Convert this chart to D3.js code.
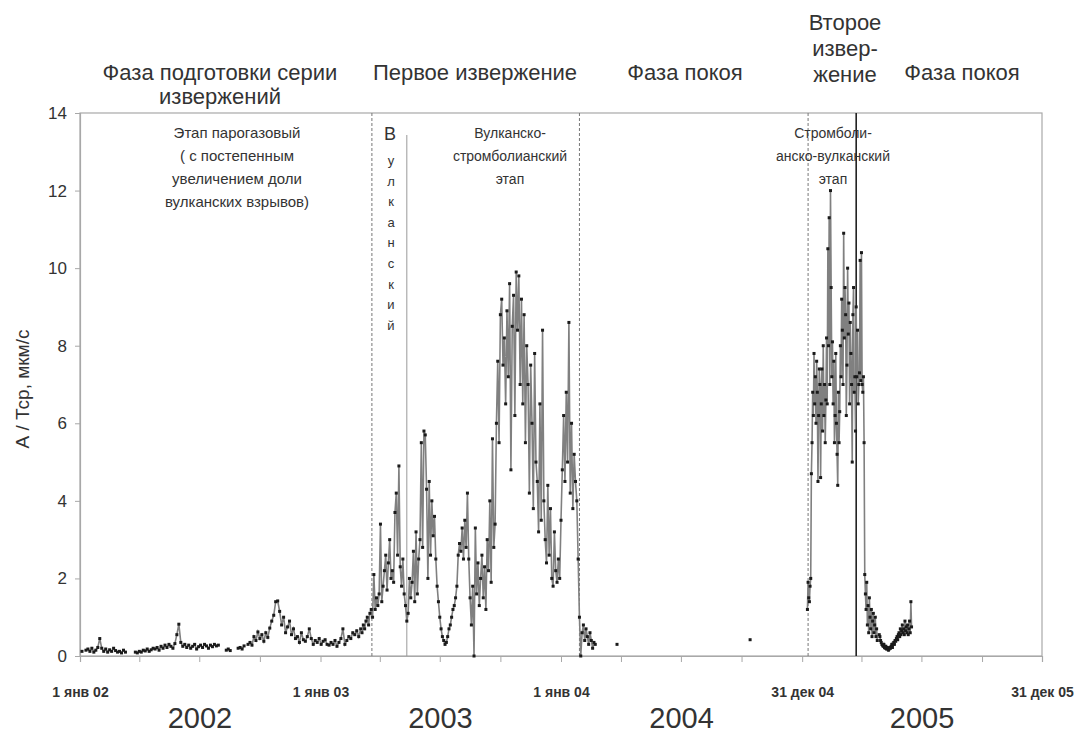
<!DOCTYPE html>
<html>
<head>
<meta charset="utf-8">
<script src="https://cdnjs.cloudflare.com/ajax/libs/d3/7.8.5/d3.min.js"></script>
<style>
body { margin: 0; background: #fff; }
svg text { font-family: "Liberation Sans", Arial, sans-serif; fill: #333; }
</style>
</head>
<body>
<div id="chart"></div>
<script>
"use strict";

// readings: start date, days between readings, A/Tcp values (null = no data)
var prepStart = "2002-01-04", prepStep = 3;
var prepValues = [0.12, null, 0.15,
    0.18, 0.12, 0.2, 0.1, 0.15, 0.22, 0.45, 0.2, 0.12, 0.18, 0.1, 0.16, 0.12, 0.2, 0.14, 0.1, 0.12, 0.08, 0.15, 0.1,
    null, null, null, null,
    0.1, 0.08, 0.12, 0.1, 0.15, 0.13, 0.18, 0.12, 0.16, 0.2,
    0.18, 0.22, 0.15, 0.25, 0.2, 0.28, 0.22, 0.3, 0.25, 0.2, 0.32,
    0.55, 0.82, 0.35, 0.25, 0.3,
    0.22, 0.28, 0.2, 0.25, 0.3, 0.18, 0.24, 0.28, 0.22, 0.3, 0.26, 0.2, 0.28, 0.24, 0.3, 0.26, 0.28,
    null, null, null, 0.15, 0.18, 0.14, null, null, null,
    0.2, 0.22, 0.18, 0.26, null,
    0.3, 0.35, 0.28, 0.5, 0.4, 0.62, 0.45,
    0.55, 0.38, 0.6, 0.48, 0.72,
    0.9, 1.05, 1.4, 1.42, 1.15,
    0.8, 1.0, 0.6, 0.75, 0.9,
    0.55, 0.7, 0.45, 0.5, 0.35, 0.6, 0.42, 0.38, 0.5, 0.7, 0.45, 0.3, 0.4, 0.35, 0.45, 0.3, 0.38, 0.42,
    0.3, 0.28, 0.35, 0.3, 0.4, 0.25, 0.35, 0.45, 0.7, 0.3, 0.4, 0.5, 0.45, 0.6, 0.55, 0.65, 0.5, 0.7];

var erupt1Start = "2003-03-05", erupt1Step = 2;
var erupt1Values = [0.6, 0.8, 0.7, 0.9, 1.0, 0.8, 1.1, 1.2, 1.0,
    2.1, 1.2, 1.5, 1.3,
    1.6, 3.4, 1.4, 1.8, 2.2,
    2.6, 1.7, 2.4, 3.0, 2.0,
    2.2, 1.9, 3.7, 4.2, 2.6, 4.9,
    2.3, 1.8, 2.5, 1.6, 1.3,
    0.9, 1.1, 2.0, 1.5, 1.9,
    2.7, 1.4, 3.2, 1.6, 2.5, 3.0,
    5.5, 2.8, 5.8, 5.7, 4.3, 2.0,
    4.5, 2.6, 4.0, 3.1, 3.6, 2.5,
    1.8, 1.4, 1.0, 0.7, 0.5, 0.4,
    0.3, 0.35, 0.5, 0.7, 0.8, 1.0,
    1.2, 1.3, 1.5, 1.8, 2.6, 2.9,
    2.7, 3.3, 2.5, 3.5, 2.8, 4.2,
    2.5, 1.5, 0.8, 1.8, 0.0, 3.3,
    1.6, 2.4, 1.3, 2.0, 2.6, 1.5,
    2.3, 1.2, 3.0, 2.2, 4.0, 1.9,
    5.6, 2.8, 3.4, 6.0, 7.6, 5.5,
    8.8, 9.2, 7.5, 8.2, 6.5, 8.9,
    7.2, 9.6, 4.8, 8.5, 9.3, 6.2,
    9.9, 8.4, 9.8, 7.0, 9.2, 6.5,
    8.8, 5.5, 8.0, 7.0, 4.2, 7.5,
    6.0, 3.8, 7.8, 5.0, 4.5, 3.2,
    6.5, 3.5, 8.4, 4.0, 3.0, 2.4,
    4.4, 2.6, 3.8, 2.0, 1.8, 3.2,
    2.2, 1.9, 2.5, 2.0, 3.5, 4.8,
    6.2, 4.5, 6.8, 5.0, 8.6, 4.2,
    6.0, 3.8, 5.2, 4.5, 4.0,
    2.5, 1.0, 0.0,
    0.6, 0.8, 0.4, 0.7, 0.5, 0.3, 0.6, 0.4, 0.2, 0.35, 0.3];

var erupt2Start = "2005-01-09", erupt2Step = 1;
var erupt2Values = [1.2, 1.9, 1.5, 1.4, 1.8, 2.0, 4.7, 5.5, 6.8, 6.2,
    7.8, 6.5, 7.2, 6.0, 7.6, 6.8, 4.5, 6.2, 7.4, 7.0,
    4.6, 6.5, 7.4, 5.8, 8.0, 6.2, 7.0, 5.5, 6.6, 8.2,
    6.5, 10.5, 8.0, 11.3, 7.0, 12.0, 9.5, 7.2, 8.1, 6.5,
    7.6, 5.5, 6.2, 7.8, 6.0, 5.2, 4.4, 6.8, 5.5, 6.3,
    8.0, 7.2, 9.2, 8.4, 7.0, 10.9, 8.2, 9.5, 8.8, 6.2,
    7.5, 10.0, 8.3, 9.1, 6.5, 8.6, 7.8, 7.0, 5.0, 8.8,
    9.5, 6.8, 7.2, 5.8, 9.0, 7.2, 8.4, 6.5, 7.0, 7.3,
    10.2, 7.1, 10.4, 7.0, 6.8, 7.2, 5.5, 2.1, 1.6, 1.2,
    1.9, 0.8, 1.3, 0.6, 1.5, 1.0, 0.7, 1.2, 0.5, 0.9,
    1.1, 0.6, 0.8, 1.0, 0.5, 0.7, 0.4, null, null, 0.55,
    0.5, 0.4, 0.35, 0.3, 0.28, 0.25, 0.3, 0.22, 0.2, 0.25,
    0.18, 0.22, 0.2, 0.15, 0.18, 0.22, 0.2, 0.25, 0.3, 0.22,
    0.3, 0.35, 0.3, 0.4, 0.38, 0.45, 0.5, 0.42, 0.55, 0.6,
    0.5, 0.7, 0.55, 0.65, 0.8, 0.6, 0.7, 0.55, 0.9, 0.65,
    0.75, 0.6, 0.8, 0.55, 0.7, 0.9, 0.6, 1.4, 0.75];

var strayDates = ["2004-03-26", "2004-10-14"];
var strayValues = [0.3, 0.42];

// stage boundaries
var dashedDates = ["2003-03-20", "2004-01-29", "2005-01-10"];
var solidDates = ["2003-05-12", "2005-03-24"];

var yTicks = [0, 2, 4, 6, 8, 10, 12, 14];
var xTickLabels = ["1 янв 02", "", "", "", "1 янв 03", "", "", "", "1 янв 04", "", "", "", "31 дек 04", "", "", "", "31 дек 05"];
var years = ["2002", "2003", "2004", "2005"];

var parse = d3.timeParse("%Y-%m-%d");

function series(start, step, values) {
    var d0 = parse(start);
    return values.map(function (v, i) { return { date: d3.timeDay.offset(d0, i * step), v: v }; });
}

var groups = [series(prepStart, prepStep, prepValues),
              series(erupt1Start, erupt1Step, erupt1Values),
              series(erupt2Start, erupt2Step, erupt2Values)];
var stray = strayDates.map(function (d, i) { return { date: parse(d), v: strayValues[i] }; });

var width = 1080, height = 736;
var plotL = 80, plotR = 1042, plotT = 113, plotB = 656;

var x = d3.scaleTime()
    .domain([parse("2002-01-01"), parse("2005-12-31")])
    .range([plotL, plotR]);
var y = d3.scaleLinear().domain([0, 14]).range([plotB, plotT]);

var svg = d3.select("#chart").append("svg")
    .attr("width", width)
    .attr("height", height);

// frame
svg.append("rect")
    .attr("x", plotL).attr("y", plotT)
    .attr("width", plotR - plotL).attr("height", plotB - plotT)
    .attr("fill", "none").attr("stroke", "#a8a8a8").attr("stroke-width", 1.2);

var xTicks = d3.timeMonth.every(3).range(parse("2002-01-01"), parse("2005-12-02"));
xTicks.push(parse("2005-12-31"));

var xAxis = svg.append("g")
    .attr("transform", "translate(0," + plotB + ")")
    .call(d3.axisBottom(x).tickValues(xTicks).tickSize(6).tickPadding(25)
        .tickFormat(function (d, i) { return xTickLabels[i]; }));
xAxis.select(".domain").attr("stroke", "#a8a8a8").attr("stroke-width", 1.2);
xAxis.selectAll(".tick line").attr("stroke", "#a8a8a8");
xAxis.selectAll("text")
    .style("font-size", "14px").style("font-weight", "bold").attr("fill", "#333");

var yAxis = svg.append("g")
    .attr("transform", "translate(" + plotL + ",0)")
    .call(d3.axisLeft(y).tickValues(yTicks).tickSize(5).tickPadding(8));
yAxis.select(".domain").attr("stroke", "#a8a8a8").attr("stroke-width", 1.2);
yAxis.selectAll(".tick line").attr("stroke", "#a8a8a8");
yAxis.selectAll("text").style("font-size", "17px").attr("fill", "#333");

svg.append("text")
    .attr("transform", "translate(29,389) rotate(-90)")
    .attr("text-anchor", "middle")
    .style("font-size", "19px")
    .text("А / Тср, мкм/с");

svg.selectAll(".year")
    .data(years)
    .enter()
    .append("text")
    .attr("x", function (d) { return x(parse(d + "-07-02")); })
    .attr("y", 728)
    .attr("text-anchor", "middle")
    .style("font-size", "29px")
    .text(function (d) { return d; });

// stage boundaries
svg.selectAll(".dash")
    .data(dashedDates)
    .enter()
    .append("line")
    .attr("x1", function (d) { return x(parse(d)); })
    .attr("x2", function (d) { return x(parse(d)); })
    .attr("y1", plotT).attr("y2", plotB)
    .attr("stroke", "#777").attr("stroke-width", 1)
    .attr("stroke-dasharray", "3,2");

svg.append("line")
    .attr("x1", x(parse(solidDates[0]))).attr("x2", x(parse(solidDates[0])))
    .attr("y1", 135).attr("y2", plotB)
    .attr("stroke", "#999").attr("stroke-width", 1);
svg.append("line")
    .attr("x1", x(parse(solidDates[1]))).attr("x2", x(parse(solidDates[1])))
    .attr("y1", plotT).attr("y2", plotB)
    .attr("stroke", "#222").attr("stroke-width", 1.6);

// data
var line = d3.line()
    .defined(function (d) { return d.v !== null; })
    .x(function (d) { return x(d.date); })
    .y(function (d) { return y(d.v); });

groups.forEach(function (g) {
    svg.append("path")
        .datum(g)
        .attr("d", line)
        .attr("fill", "none")
        .attr("stroke", "#808080")
        .attr("stroke-width", 1.6);
});

var pts = [].concat.apply([], groups).concat(stray)
    .filter(function (d) { return d.v !== null; });
svg.selectAll(".pt")
    .data(pts)
    .enter()
    .append("rect")
    .attr("x", function (d) { return x(d.date) - 1.5; })
    .attr("y", function (d) { return y(d.v) - 1.5; })
    .attr("width", 3).attr("height", 3)
    .attr("fill", "#1a1a1a");

// phase headings
function block(lines, cx, y0, dy, size) {
    svg.append("g").selectAll("text")
        .data(lines)
        .enter()
        .append("text")
        .attr("x", cx)
        .attr("y", function (d, i) { return y0 + i * dy; })
        .attr("text-anchor", "middle")
        .style("font-size", size + "px")
        .text(function (d) { return d; });
}

block(["Фаза подготовки серии", "извержений"], 220, 80, 24, 22);
block(["Первое извержение"], 475, 80, 24, 22);
block(["Фаза покоя"], 685, 80, 24, 22);
block(["Второе", "извер-", "жение"], 845, 30, 26, 22);
block(["Фаза покоя"], 962, 80, 24, 22);

block(["Этап парогазовый", "( с постепенным", "увеличением доли", "вулканских взрывов)"], 237, 138, 23, 15);
block(["Вулканско-", "стромболианский", "этап"], 510, 138, 23, 14);
block(["Стромболи-", "анско-вулканский", "этап"], 833, 138, 23, 14);
block(["В"], 390, 140, 0, 18);
block("улканский".split(""), 391, 165, 20.6, 13);
</script>
</body>
</html>
